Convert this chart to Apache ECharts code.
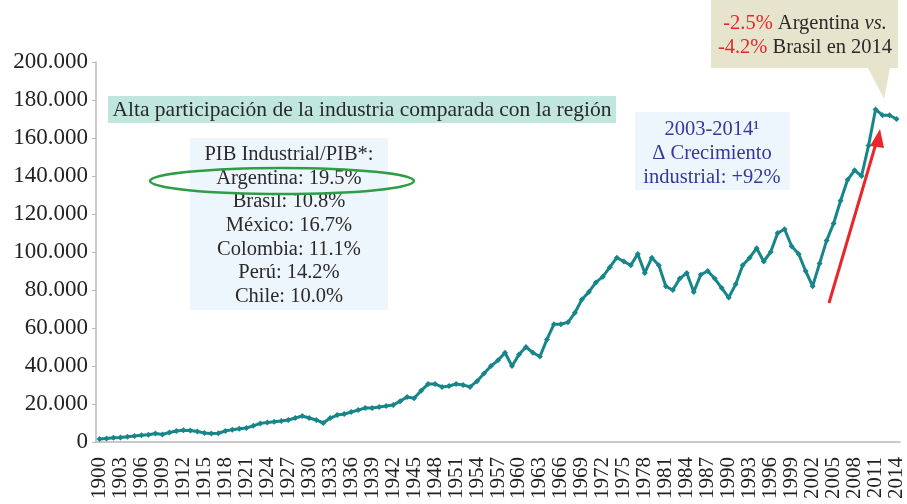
<!DOCTYPE html>
<html>
<head>
<meta charset="utf-8">
<script src="https://cdn.jsdelivr.net/npm/echarts@6/dist/echarts.min.js"></script>
<style>
  html, body { margin: 0; padding: 0; background: #fff; }
  #chart { width: 907px; height: 504px; }
</style>
</head>
<body>
<div id="chart"></div>
<script>
// años 1900-2014
var years = [];
for (var y = 1900; y <= 2014; y++) years.push(String(y));

// PIB industrial (miles)
var pib1900s = [1.6, 1.8, 2.2, 2.4, 2.8, 3.2, 3.5, 3.8, 4.5, 4.0];
var pib1910s = [5.0, 5.8, 6.2, 6.0, 5.5, 4.8, 4.5, 4.6, 5.8, 6.5];
var pib1920s = [7.0, 7.4, 8.5, 9.8, 10.3, 10.6, 11.0, 11.6, 12.6, 13.7];
var pib1930s = [12.6, 11.6, 10.0, 12.6, 14.2, 14.7, 15.8, 16.8, 17.9, 17.9];
var pib1940s = [18.4, 19.0, 19.5, 21.5, 23.7, 23.0, 27.0, 30.5, 30.5, 29.0];
var pib1950s = [29.5, 30.5, 30.0, 29.0, 32.0, 36.0, 40.0, 43.0, 47.0, 40.0];
var pib1960s = [46.0, 50.0, 47.0, 45.0, 54.0, 62.0, 62.0, 63.0, 68.0, 75.0];
var pib1970s = [79.0, 84.0, 87.0, 92.0, 97.0, 95.0, 93.0, 99.0, 89.0, 97.0];
var pib1980s = [93.0, 82.0, 80.0, 86.0, 89.0, 79.0, 88.0, 90.0, 86.0, 81.0];
var pib1990s = [76.0, 83.0, 93.0, 97.0, 102.0, 95.0, 100.0, 110.0, 112.0, 103.0];
var pib2000s = [99.0, 90.0, 82.0, 94.0, 106.0, 115.0, 127.0, 138.0, 143.0, 140.0];
var pib2010s = [156.0, 175.0, 172.0, 172.0, 170.0];

var pib = [].concat(pib1900s, pib1910s, pib1920s, pib1930s, pib1940s, pib1950s,
  pib1960s, pib1970s, pib1980s, pib1990s, pib2000s, pib2010s);

var tituloRegion = 'Alta participación de la industria comparada con la región';
var lineasPib = ['PIB Industrial/PIB*:', 'Argentina: 19.5%', 'Brasil: 10.8%',
  'México: 16.7%', 'Colombia: 11.1%', 'Perú: 14.2%', 'Chile: 10.0%'];
var lineasCrec = ['2003-2014¹', 'Δ Crecimiento', 'industrial: +92%'];

var serif = '"Liberation Serif", "DejaVu Serif", serif';
var chart = echarts.init(document.getElementById('chart'));

chart.setOption({
  animation: false,
  grid: { left: 96, right: 4, top: 62, bottom: 62 },
  xAxis: {
    type: 'category',
    data: years,
    boundaryGap: true,
    axisLine: { lineStyle: { color: '#b8b8b8', width: 1.5 } },
    axisTick: { interval: 0, length: 5, lineStyle: { color: '#b8b8b8' } },
    axisLabel: {
      interval: 2, rotate: 90, margin: 15,
      fontFamily: serif, fontSize: 21, color: '#222'
    }
  },
  yAxis: {
    type: 'value',
    min: 0, max: 200, interval: 20,
    splitLine: { show: false },
    axisLine: { show: true, lineStyle: { color: '#b8b8b8', width: 1.5 } },
    axisTick: { show: true, length: 4, lineStyle: { color: '#b8b8b8' } },
    axisLabel: {
      margin: 8, fontFamily: serif, fontSize: 23, color: '#222',
      formatter: function (v) { return v === 0 ? '0' : v + '.000'; }
    }
  },
  series: [{
    type: 'line',
    data: pib,
    symbol: 'diamond',
    symbolSize: 6,
    showAllSymbol: true,
    itemStyle: { color: '#16868a' },
    lineStyle: { color: '#16868a', width: 3 }
  }],
  graphic: [
    // titulo
    { type: 'rect', shape: { x: 108, y: 96, width: 508, height: 27 }, style: { fill: '#c0e6dd' } },
    { type: 'text', x: 362, y: 110, style: { text: tituloRegion, font: '21.5px ' + serif, fill: '#2a2a2a', align: 'center', verticalAlign: 'middle' } },
    // cuadro PIB
    { type: 'rect', shape: { x: 190, y: 138, width: 198, height: 172 }, style: { fill: '#eef6fd' } },
    { type: 'text', x: 289, y: 143, style: { text: lineasPib.join('\n'), font: '20.5px ' + serif, lineHeight: 23.6, fill: '#2a2a2a', align: 'center' } },
    { type: 'ellipse', shape: { cx: 282, cy: 181, rx: 132, ry: 13 }, style: { fill: 'none', stroke: '#2d9e45', lineWidth: 2.5 } },
    // cuadro crecimiento
    { type: 'rect', shape: { x: 635, y: 112, width: 155, height: 78 }, style: { fill: '#eef6fd' } },
    { type: 'text', x: 712, y: 118, style: { text: lineasCrec.join('\n'), font: '20.5px ' + serif, lineHeight: 24, fill: '#34389a', align: 'center' } },
    // globo 2014
    { type: 'polygon', shape: { points: [[711, 0], [898, 0], [898, 68], [890, 68], [884, 99], [868, 68], [711, 68]] }, style: { fill: '#e6e4cc' } },
    { type: 'text', x: 805, y: 12, style: {
      text: '{r|-2.5%} Argentina {i|vs.}\n{r|-4.2%} Brasil en 2014',
      font: '20.5px ' + serif, lineHeight: 24, fill: '#2a2a2a', align: 'center',
      rich: {
        r: { fill: '#e8262b', font: '20.5px ' + serif },
        i: { font: 'italic 20.5px ' + serif, fill: '#2a2a2a' }
      }
    } },
    // flecha
    { type: 'line', shape: { x1: 829, y1: 303, x2: 877, y2: 140 }, style: { stroke: '#e8262b', lineWidth: 3 } },
    { type: 'polygon', shape: { points: [[880, 129], [870, 146], [884, 148]] }, style: { fill: '#e8262b' } }
  ]
});
</script>
</body>
</html>
